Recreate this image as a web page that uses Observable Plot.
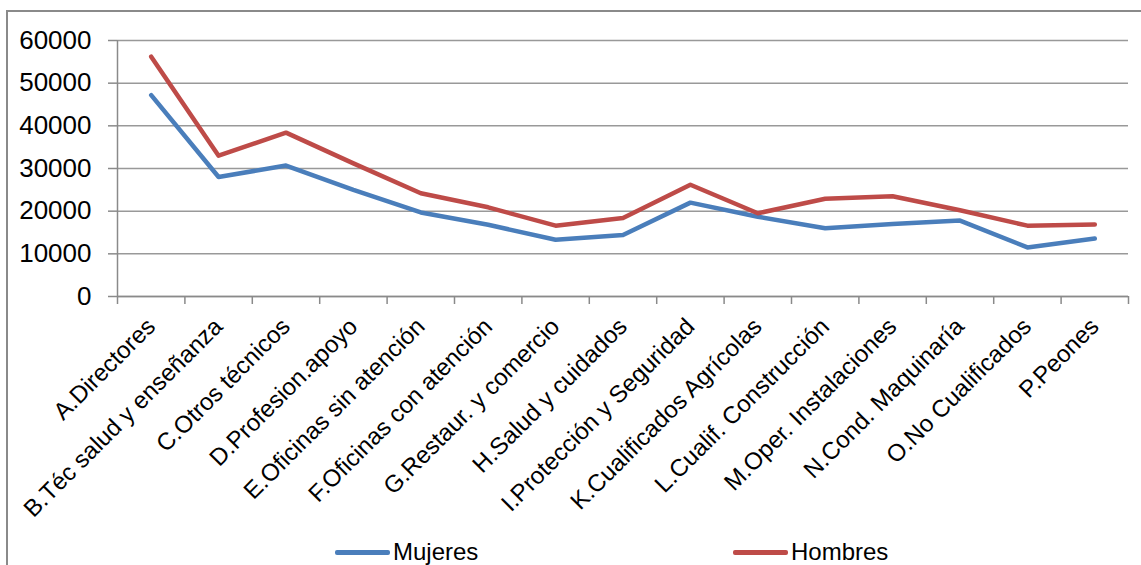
<!DOCTYPE html>
<html><head><meta charset="utf-8">
<script src="https://cdn.jsdelivr.net/npm/d3@7"></script>
<script src="https://cdn.jsdelivr.net/npm/@observablehq/plot@0.6"></script>
<style>
body{margin:0;background:#fff;overflow:hidden;}
#wrap{position:relative;width:1141px;height:565px;overflow:hidden;font-family:"Liberation Sans",Arial,sans-serif;background:#fff;}
#frame{position:absolute;left:6px;top:10px;width:1300px;height:800px;border:2px solid #8a8a8a;box-sizing:border-box;}
#chart{position:absolute;left:0;top:0;}
.leg{position:absolute;top:540px;font-size:24px;line-height:24px;color:#000;display:flex;align-items:center;white-space:nowrap;}
.sw{display:inline-block;width:55px;height:5px;border-radius:2px;margin-right:3px;}
</style></head>
<body><div id="wrap"><div id="frame"></div><div id="chart"></div><div id="legend"></div></div>
<script>
const categories = ["A.Directores","B.Téc salud y enseñanza","C.Otros técnicos","D.Profesion.apoyo","E.Oficinas sin atención","F.Oficinas con atención","G.Restaur. y comercio","H.Salud y cuidados","I.Protección y Seguridad","K.Cualificados Agrícolas","L.Cualif. Construcción","M.Oper. Instalaciones","N.Cond. Maquinaría","O.No Cualificados","P.Peones"];
const mujeres = [47200, 28000, 30700, 25000, 19700, 16800, 13300, 14400, 22000, 18700, 16000, 17000, 17800, 11500, 13600];
const hombres = [56200, 33000, 38400, 31200, 24200, 20900, 16600, 18400, 26200, 19500, 22900, 23500, 20200, 16600, 16900];
const yTicks = [0, 10000, 20000, 30000, 40000, 50000, 60000];
const seriesNames = ["Mujeres", "Hombres"];
const seriesColors = ["#4A7EBB", "#BE4B48"];

const rows = [];
categories.forEach((c, i) => {
  rows.push({i, cat: c, serie: "Mujeres", v: mujeres[i]});
  rows.push({i, cat: c, serie: "Hombres", v: hombres[i]});
});
const bounds = d3.range(categories.length + 1);

const chart = Plot.plot({
  width: 1141, height: 565,
  marginLeft: 117, marginRight: 13, marginTop: 40, marginBottom: 269,
  style: {fontFamily: '"Liberation Sans", Arial, sans-serif', background: "transparent", color: "#000", overflow: "visible"},
  x: {type: "linear", domain: [0, categories.length]},
  y: {domain: [0, 60000]},
  color: {domain: seriesNames, range: seriesColors},
  marks: [
    Plot.gridY(yTicks, {stroke: "#999", strokeOpacity: 1, strokeWidth: 1.5}),
    Plot.ruleX([0], {stroke: "#8a8a8a", strokeWidth: 1.5}),
    Plot.ruleY([0], {stroke: "#8a8a8a", strokeWidth: 1.5}),
    Plot.axisY(yTicks, {tickSize: 9, tickPadding: 17, fontSize: 26, tickFormat: d => String(d), stroke: "#8a8a8a", strokeWidth: 1.5, label: null}),
    Plot.axisX(bounds, {tickSize: 8, tickFormat: () => "", stroke: "#8a8a8a", strokeWidth: 1.5, label: null}),
    Plot.text(categories, {x: (d, i) => i + 0.5, frameAnchor: "bottom", text: d => d, rotate: -45, textAnchor: "end", lineAnchor: "middle", dx: 0, dy: 26, fontSize: 24, fill: "#000"}),
    Plot.line(rows, {x: d => d.i + 0.5, y: "v", z: "serie", stroke: "serie", strokeWidth: 4.5, strokeLinejoin: "round", strokeLinecap: "round"})
  ]
});
document.getElementById("chart").appendChild(chart);

const legendPos = [335, 733];
const wrap = document.getElementById("wrap");
seriesNames.forEach((name, k) => {
  const div = document.createElement("div");
  div.className = "leg";
  div.style.left = legendPos[k] + "px";
  const sw = document.createElement("span");
  sw.className = "sw";
  sw.style.background = seriesColors[k];
  div.appendChild(sw);
  div.appendChild(document.createTextNode(name));
  wrap.appendChild(div);
});
</script>
</body></html>
